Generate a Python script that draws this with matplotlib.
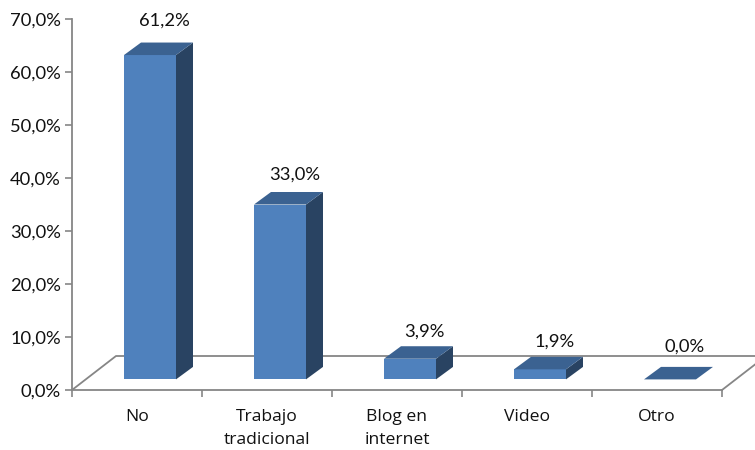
import numpy as np
import matplotlib
matplotlib.use("Agg")
import matplotlib.pyplot as plt

categorias = ["No", "Trabajo\ntradicional", "Blog en\ninternet", "Video", "Otro"]
valores = [61.2, 33.0, 3.9, 1.9, 0.0]
etiquetas_y = ["0,0%", "10,0%", "20,0%", "30,0%", "40,0%", "50,0%", "60,0%", "70,0%"]
ticks_y = [0, 10, 20, 30, 40, 50, 60, 70]
# gap between bar top and its label (pct units), not regular in the original
sep_etiqueta = [4.1, 3.2, 2.8, 2.8, 3.8]

plt.rcParams["font.family"] = ["Lato", "DejaVu Sans"]

frente = "#4f81bd"
arriba = "#3b6291"
lado = "#294362"
gris = "#868686"
texto = "#111111"

fig = plt.figure(figsize=(7.55, 4.5), dpi=100)
ax = fig.add_axes([72 / 755, 60 / 450, 650 / 755, 371 / 450])
ax.set_xlim(0, 5)
ax.set_ylim(0, 70)

# pseudo 3D depth, in data units
dx = 17 / 130
dy = 12.5 / 5.3
base = 2.0
suelo_x = 44 / 130
suelo_y = 34 / 5.3

for sp in ["top", "right"]:
    ax.spines[sp].set_visible(False)
for sp in ["left", "bottom"]:
    ax.spines[sp].set_color(gris)
    ax.spines[sp].set_linewidth(1.3)

ax.set_xticks(np.arange(6))
ax.set_xticklabels([])
ax.set_xticks(np.arange(5) + 0.5, minor=True)
ax.set_xticklabels(categorias, minor=True, fontsize=12.6, color=texto, linespacing=1.62, family="Open Sans")
ax.tick_params(axis="x", which="major", length=5, width=1.2, color=gris)
ax.tick_params(axis="x", which="minor", length=0, pad=13.5)
ax.set_yticks(ticks_y)
ax.set_yticklabels(etiquetas_y, fontsize=13.2, color=texto)
ax.tick_params(axis="y", length=5, width=1.2, color=gris, pad=3)

# floor
ax.plot([0, suelo_x, 5.5], [0, suelo_y, suelo_y], color=gris, lw=1.3, clip_on=False, zorder=1)
ax.plot([5, 5 + suelo_x], [0, suelo_y], color=gris, lw=1.3, clip_on=False, zorder=1)

for i, v in enumerate(valores):
    x0 = i + 0.4
    x1 = i + 0.8
    y0 = base
    y1 = base + v
    if v > 0:
        ax.fill([x0, x1, x1, x0], [y0, y0, y1, y1], color=frente, lw=0, zorder=3, clip_on=False)
        ax.fill([x1, x1 + dx, x1 + dx, x1], [y0, y0 + dy, y1 + dy, y1], color=lado, lw=0, zorder=3, clip_on=False)
    ax.fill([x0, x1, x1 + dx, x0 + dx], [y1, y1, y1 + dy, y1 + dy], color=arriba, lw=0, zorder=3, clip_on=False)
    ax.text(i + 0.71, y1 + dy + sep_etiqueta[i], f"{v:.1f}%".replace(".", ","), ha="center", va="center",
            fontsize=13.2, color=texto, clip_on=False)

fig.savefig("out.png", dpi=100, facecolor="white")
